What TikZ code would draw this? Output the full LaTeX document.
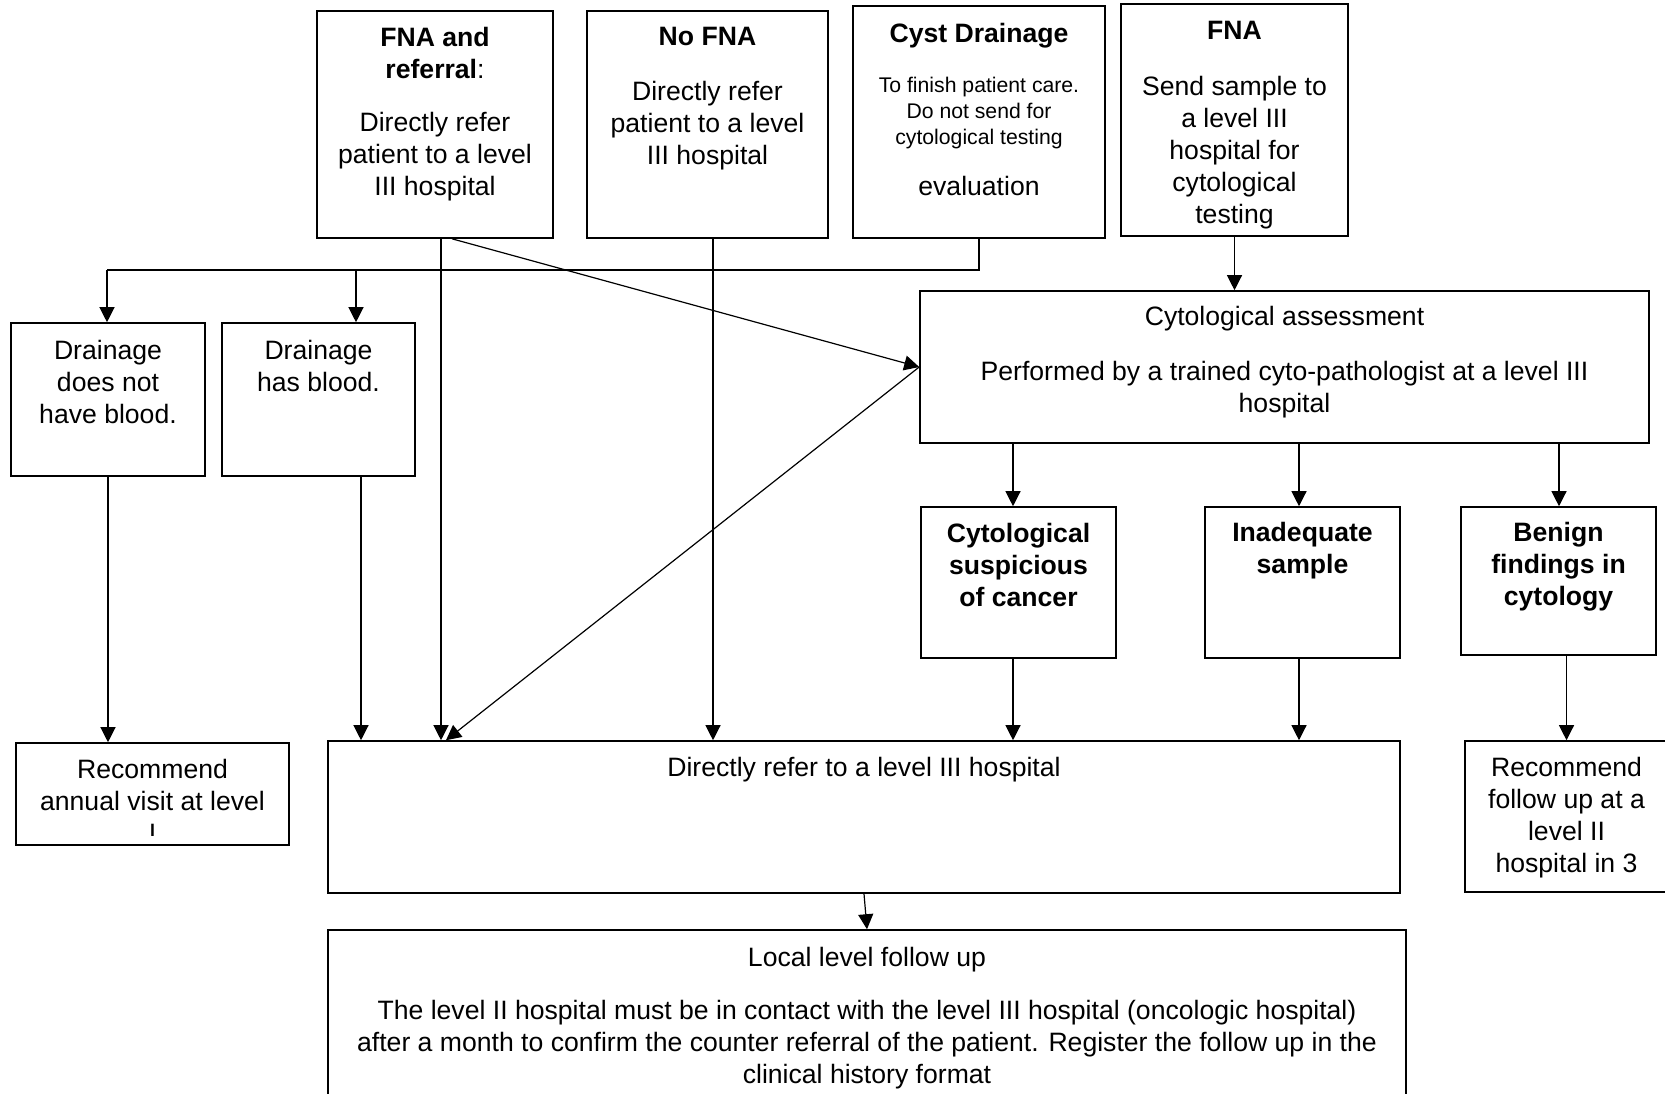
\documentclass[tikz,border=0pt]{standalone}
\usepackage{fontspec}
\setmainfont{Liberation Sans}
\usepackage{tikz}
\usetikzlibrary{shapes,arrows.meta,positioning}
\tikzstyle{block} = [rectangle, draw, line width=0.8pt, inner sep=0pt]
\tikzstyle{boxtext} = [inner sep=0pt, align=center, font=\fontsize{13.3}{16}\selectfont]
\tikzstyle{smalltext} = [inner sep=0pt, align=center, font=\fontsize{10.6}{13}\selectfont]
\tikzstyle{link} = [draw, line width=0.6pt]
\tikzstyle{arrow} = [link, -{Triangle[width=7.5pt,length=7.5pt]}]

\begin{document}
\begin{tikzpicture}[x=0.5pt, y=-0.5pt, node distance=8pt]
    \clip (0,0) rectangle (1665,1093);

    % Top row
    \node [block, minimum width=118pt, minimum height=113.5pt] (FnaReferral) at (435,124.5) {};
    \node [boxtext, below=8.5pt of FnaReferral.north] (FnaReferralText) {\textbf{FNA and}\\\textbf{referral}:\\[10.5pt]Directly refer\\patient to a level\\III hospital};
    \node [block, minimum width=120.5pt, minimum height=113.5pt] (NoFna) at (707.5,124.5) {};
    \node [boxtext, below=8.5pt of NoFna.north] (NoFnaText) {\textbf{No FNA}\\[11.5pt]Directly refer\\patient to a level\\III hospital};
    \node [block, minimum width=126pt, minimum height=116pt] (CystDrainage) at (979,122) {};
    \node [boxtext, below=9pt of CystDrainage.north] (CystDrainageTitle) {\textbf{Cyst Drainage}};
    \node [smalltext, below=13.7pt of CystDrainageTitle] (CystDrainageNote) {To finish patient care.\\Do not send for\\cytological testing};
    \node [boxtext, below=13.7pt of CystDrainageNote] (CystDrainageEval) {evaluation};
    \node [block, minimum width=113.5pt, minimum height=116pt] (Fna) at (1234.5,120) {};
    \node [boxtext, below=9pt of Fna.north] (FnaText) {\textbf{FNA}\\[12pt]Send sample to\\a level III\\hospital for\\cytological\\testing};

    % Second row
    \node [block, minimum width=97pt, minimum height=76.5pt] (NoBlood) at (108,399.5) {};
    \node [boxtext, below=9pt of NoBlood.north] (NoBloodText) {Drainage\\does not\\have blood.};
    \node [block, minimum width=96.5pt, minimum height=76.5pt] (Blood) at (318.5,399.5) {};
    \node [boxtext, below=9pt of Blood.north] (BloodText) {Drainage\\has blood.};
    \node [block, minimum width=364.5pt, minimum height=76pt] (CytoAssessment) at (1284.5,367) {};
    \node [boxtext, below=8pt of CytoAssessment.north] (CytoAssessmentText) {Cytological assessment\\[11.5pt]Performed by a trained cyto-pathologist at a level III\\hospital};

    % Cytology results
    \node [block, minimum width=97.5pt, minimum height=75.5pt] (Suspicious) at (1018.5,582.5) {};
    \node [boxtext, below=8.25pt of Suspicious.north] (SuspiciousText) {\textbf{Cytological}\\\textbf{suspicious}\\\textbf{of cancer}};
    \node [block, minimum width=97.5pt, minimum height=75.5pt] (Inadequate) at (1302.5,582.5) {};
    \node [boxtext, below=7.75pt of Inadequate.north] (InadequateText) {\textbf{Inadequate}\\\textbf{sample}};
    \node [block, minimum width=97.5pt, minimum height=74pt] (Benign) at (1558.5,581) {};
    \node [boxtext, below=7.75pt of Benign.north] (BenignText) {\textbf{Benign}\\\textbf{findings in}\\\textbf{cytology}};

    % Outcomes
    \node [block, minimum width=136.5pt, minimum height=51pt] (AnnualVisit) at (152.5,794) {};
    \begin{scope}
        \clip (16,743) rectangle (289,835);
        \node [boxtext, below=8.25pt of AnnualVisit.north] (AnnualVisitText) {Recommend\\annual visit at level\\I};
    \end{scope}
    \node [block, minimum width=536pt, minimum height=76pt] (Refer) at (864,817) {};
    \node [boxtext, below=8.25pt of Refer.north] (ReferText) {Directly refer to a level III hospital};
    \node [block, minimum width=101.5pt, minimum height=75.5pt] (FollowUp) at (1566.5,816.5) {};
    \node [boxtext, below=8.25pt of FollowUp.north] (FollowUpText) {Recommend\\follow up at a\\level II\\hospital in 3};
    \node [block, minimum width=539pt, minimum height=85pt] (LocalFollowUp) at (867,1015) {};
    \node [boxtext, below=8.75pt of LocalFollowUp.north] (LocalFollowUpText) {Local level follow up\\[10.5pt]The level II hospital must be in contact with the level III hospital (oncologic hospital)\\after a month to confirm the counter referral of the patient. Register the follow up in the\\clinical history format};

    % Connectors
    \coordinate (BusLeft) at (107,270);
    \coordinate (BusMid) at (356,270);
    \draw [link] (CystDrainage.south) |- (BusLeft);
    \draw [arrow] (BusLeft) -- (BusLeft |- NoBlood.north);
    \draw [arrow] (BusMid) -- (BusMid |- Blood.north);
    \draw [arrow] (FnaReferral.south -| 441,0) -- (Refer.north -| 441,0);
    \draw [arrow] (FnaReferral.south -| 452,0) -- (CytoAssessment.west);
    \draw [arrow] (CytoAssessment.west) -- (Refer.north -| 446,0);
    \draw [arrow] (NoFna.south -| 713,0) -- (Refer.north -| 713,0);
    \draw [arrow] (Fna.south) -- (Fna.south |- CytoAssessment.north);
    \draw [arrow] (CytoAssessment.south -| 1013,0) -- (Suspicious.north -| 1013,0);
    \draw [arrow] (CytoAssessment.south -| 1299,0) -- (Inadequate.north -| 1299,0);
    \draw [arrow] (CytoAssessment.south -| 1559,0) -- (Benign.north -| 1559,0);
    \draw [arrow] (Suspicious.south -| 1013,0) -- (Refer.north -| 1013,0);
    \draw [arrow] (Inadequate.south -| 1299,0) -- (Refer.north -| 1299,0);
    \draw [arrow] (Benign.south -| FollowUp.north) -- (FollowUp.north);
    \draw [arrow] (NoBlood.south) -- (NoBlood.south |- AnnualVisit.north);
    \draw [arrow] (Blood.south -| 361,0) -- (Refer.north -| 361,0);
    \draw [arrow] (Refer.south) -- (LocalFollowUp.north);

\end{tikzpicture}
\end{document}
